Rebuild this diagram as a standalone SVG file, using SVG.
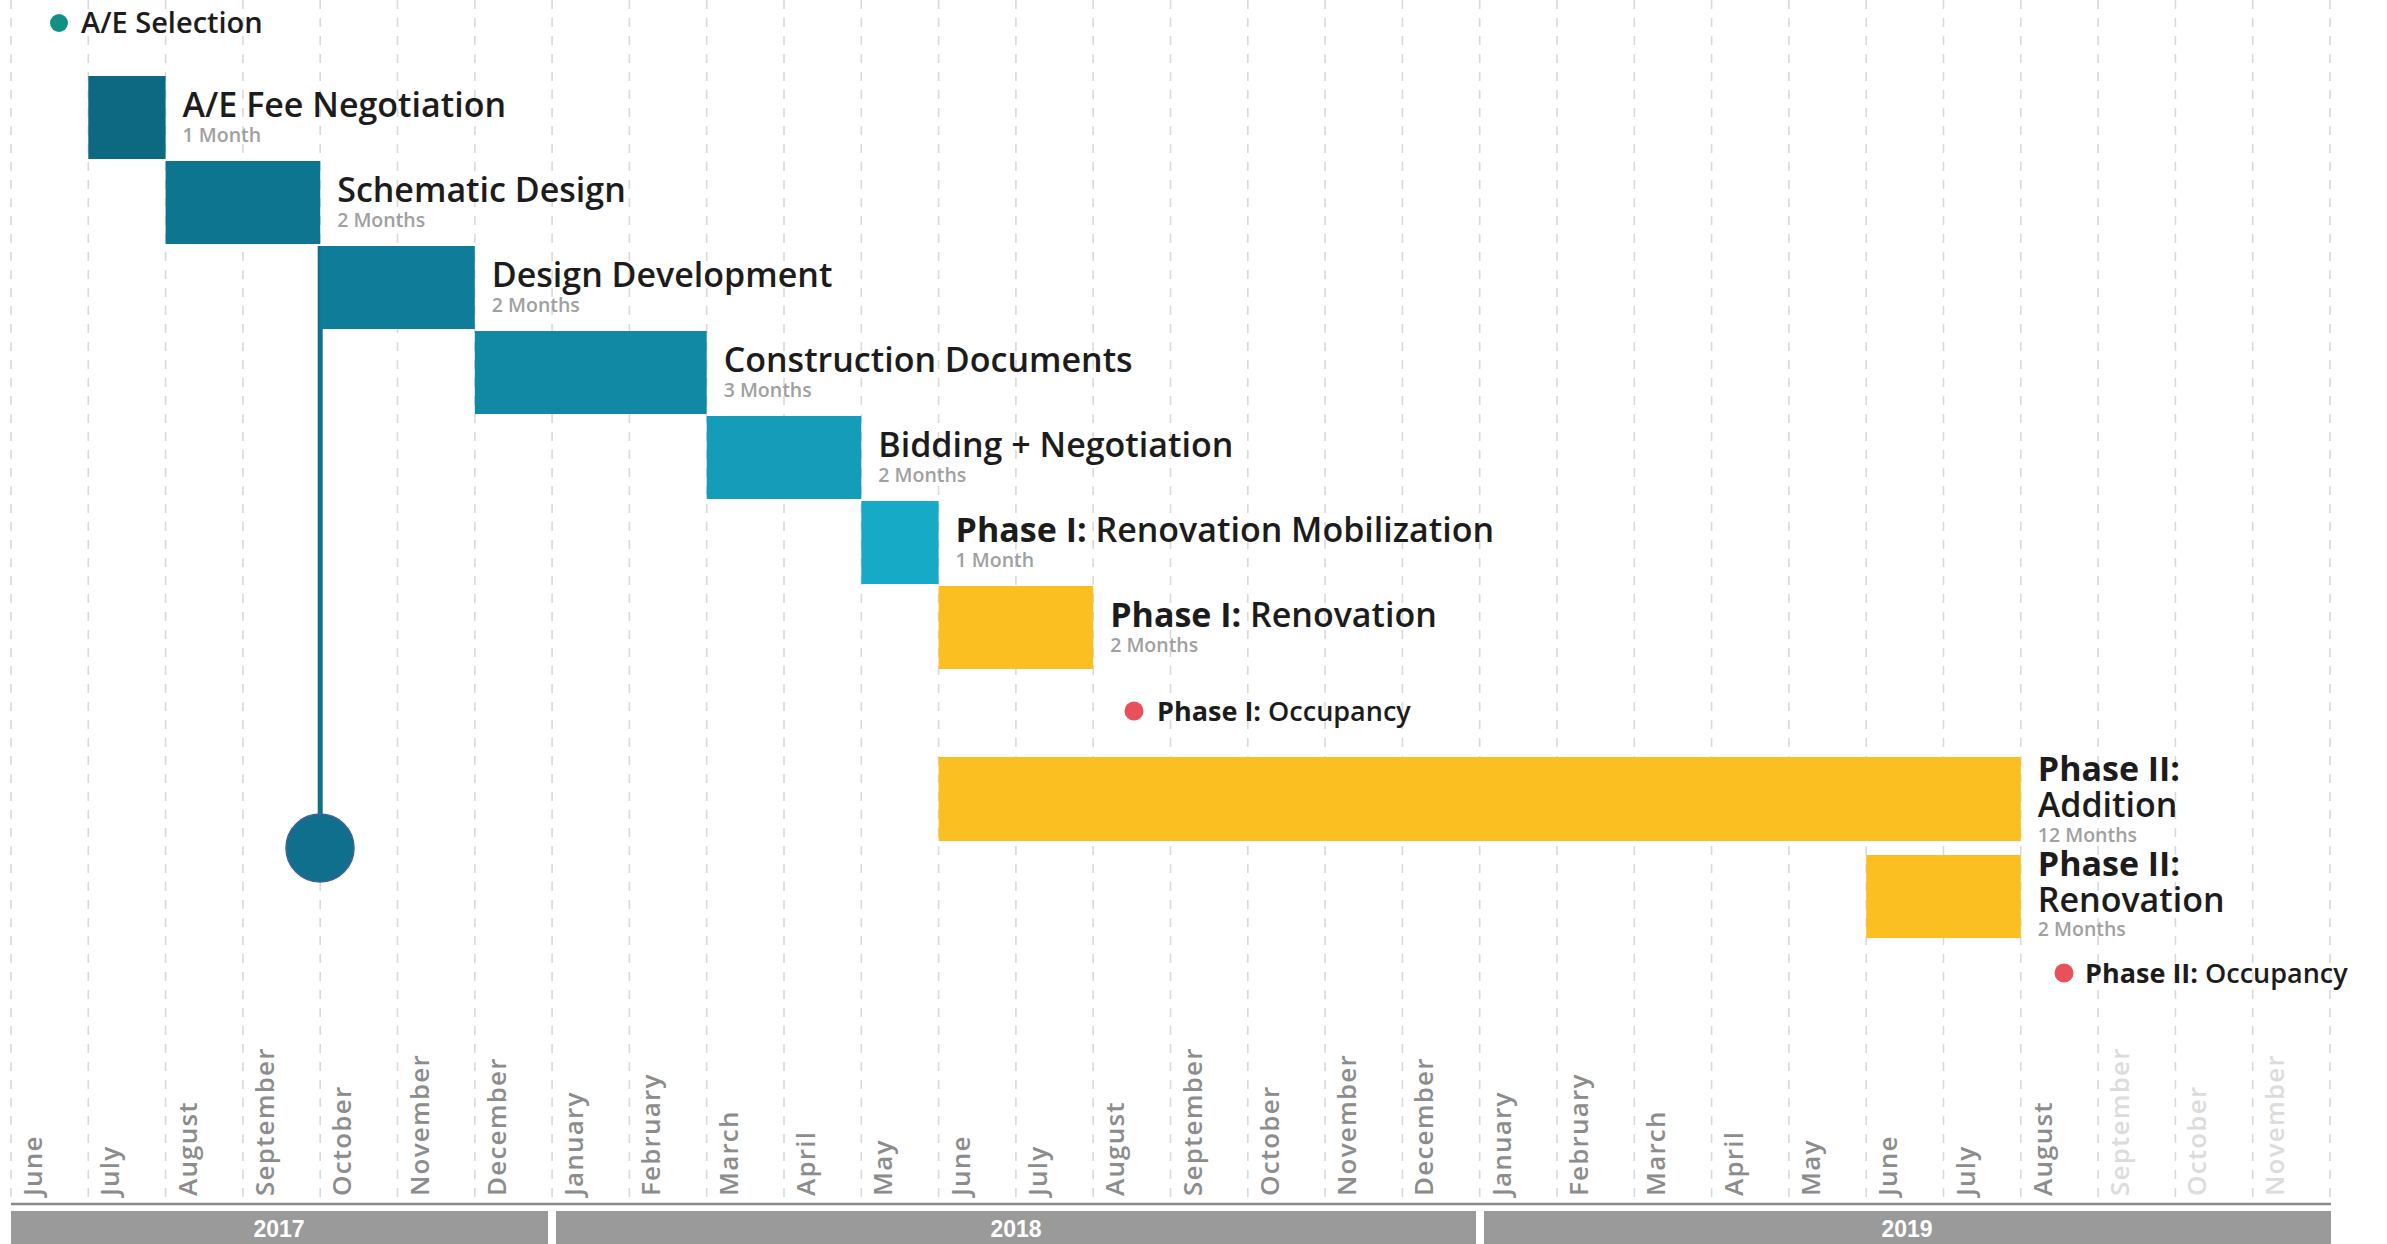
<svg xmlns="http://www.w3.org/2000/svg" width="2387" height="1244" viewBox="0 0 2387 1244">
<style>
.grid{stroke:#d9d9d9;stroke-width:1.6;stroke-dasharray:9 9}
.ttl{font-family:"Open Sans","Noto Sans",sans-serif;font-weight:600;font-size:34px;fill:#1c1c1c}
.hv{font-weight:700}
.sub{font-family:"Open Sans","Noto Sans",sans-serif;font-weight:600;font-size:19.5px;fill:#a0a0a0}
.occ{font-family:"Open Sans","Noto Sans",sans-serif;font-weight:600;font-size:27px;fill:#1c1c1c}
.mon{font-family:"Open Sans","Noto Sans",sans-serif;font-weight:600;font-size:26px;letter-spacing:1.2px;fill:#8c8c8c}
.mon.lt{fill:#dcdcdc}
.yr{font-family:"Liberation Sans",Arial,sans-serif;font-weight:700;font-size:23px;fill:#ffffff;text-anchor:middle}
.ybar{fill:#9a9a9a}
.yel{fill:#fcbf22}
</style>
<rect width="2387" height="1244" fill="#ffffff"/>
<g id="grid">
<line class="grid" x1="11" y1="0" x2="11" y2="1203"/>
<line class="grid" x1="88.3" y1="0" x2="88.3" y2="1203"/>
<line class="grid" x1="165.6" y1="0" x2="165.6" y2="1203"/>
<line class="grid" x1="242.9" y1="0" x2="242.9" y2="1203"/>
<line class="grid" x1="320.2" y1="0" x2="320.2" y2="1203"/>
<line class="grid" x1="397.5" y1="0" x2="397.5" y2="1203"/>
<line class="grid" x1="474.8" y1="0" x2="474.8" y2="1203"/>
<line class="grid" x1="552.1" y1="0" x2="552.1" y2="1203"/>
<line class="grid" x1="629.4" y1="0" x2="629.4" y2="1203"/>
<line class="grid" x1="706.7" y1="0" x2="706.7" y2="1203"/>
<line class="grid" x1="784" y1="0" x2="784" y2="1203"/>
<line class="grid" x1="861.3" y1="0" x2="861.3" y2="1203"/>
<line class="grid" x1="938.6" y1="0" x2="938.6" y2="1203"/>
<line class="grid" x1="1015.9" y1="0" x2="1015.9" y2="1203"/>
<line class="grid" x1="1093.2" y1="0" x2="1093.2" y2="1203"/>
<line class="grid" x1="1170.5" y1="0" x2="1170.5" y2="1203"/>
<line class="grid" x1="1247.8" y1="0" x2="1247.8" y2="1203"/>
<line class="grid" x1="1325.1" y1="0" x2="1325.1" y2="1203"/>
<line class="grid" x1="1402.4" y1="0" x2="1402.4" y2="1203"/>
<line class="grid" x1="1479.7" y1="0" x2="1479.7" y2="1203"/>
<line class="grid" x1="1557" y1="0" x2="1557" y2="1203"/>
<line class="grid" x1="1634.3" y1="0" x2="1634.3" y2="1203"/>
<line class="grid" x1="1711.6" y1="0" x2="1711.6" y2="1203"/>
<line class="grid" x1="1788.9" y1="0" x2="1788.9" y2="1203"/>
<line class="grid" x1="1866.2" y1="0" x2="1866.2" y2="1203"/>
<line class="grid" x1="1943.5" y1="0" x2="1943.5" y2="1203"/>
<line class="grid" x1="2020.8" y1="0" x2="2020.8" y2="1203"/>
<line class="grid" x1="2098.1" y1="0" x2="2098.1" y2="1203"/>
<line class="grid" x1="2175.4" y1="0" x2="2175.4" y2="1203"/>
<line class="grid" x1="2252.7" y1="0" x2="2252.7" y2="1203"/>
<line class="grid" x1="2330" y1="0" x2="2330" y2="1203"/>
</g>
<g id="months">
<text class="mon" transform="translate(42,1196) rotate(-90)">June</text>
<text class="mon" transform="translate(119.3,1196) rotate(-90)">July</text>
<text class="mon" transform="translate(196.6,1196) rotate(-90)">August</text>
<text class="mon" transform="translate(273.9,1196) rotate(-90)">September</text>
<text class="mon" transform="translate(351.2,1196) rotate(-90)">October</text>
<text class="mon" transform="translate(428.5,1196) rotate(-90)">November</text>
<text class="mon" transform="translate(505.8,1196) rotate(-90)">December</text>
<text class="mon" transform="translate(583.1,1196) rotate(-90)">January</text>
<text class="mon" transform="translate(660.4,1196) rotate(-90)">February</text>
<text class="mon" transform="translate(737.7,1196) rotate(-90)">March</text>
<text class="mon" transform="translate(815,1196) rotate(-90)">April</text>
<text class="mon" transform="translate(892.3,1196) rotate(-90)">May</text>
<text class="mon" transform="translate(969.6,1196) rotate(-90)">June</text>
<text class="mon" transform="translate(1046.9,1196) rotate(-90)">July</text>
<text class="mon" transform="translate(1124.2,1196) rotate(-90)">August</text>
<text class="mon" transform="translate(1201.5,1196) rotate(-90)">September</text>
<text class="mon" transform="translate(1278.8,1196) rotate(-90)">October</text>
<text class="mon" transform="translate(1356.1,1196) rotate(-90)">November</text>
<text class="mon" transform="translate(1433.4,1196) rotate(-90)">December</text>
<text class="mon" transform="translate(1510.7,1196) rotate(-90)">January</text>
<text class="mon" transform="translate(1588,1196) rotate(-90)">February</text>
<text class="mon" transform="translate(1665.3,1196) rotate(-90)">March</text>
<text class="mon" transform="translate(1742.6,1196) rotate(-90)">April</text>
<text class="mon" transform="translate(1819.9,1196) rotate(-90)">May</text>
<text class="mon" transform="translate(1897.2,1196) rotate(-90)">June</text>
<text class="mon" transform="translate(1974.5,1196) rotate(-90)">July</text>
<text class="mon" transform="translate(2051.8,1196) rotate(-90)">August</text>
<text class="mon lt" transform="translate(2129.1,1196) rotate(-90)">September</text>
<text class="mon lt" transform="translate(2206.4,1196) rotate(-90)">October</text>
<text class="mon lt" transform="translate(2283.7,1196) rotate(-90)">November</text>
</g>
<g id="years">
<line x1="11" y1="1204" x2="2331" y2="1204" stroke="#8a8a8a" stroke-width="2.5"/>
<rect class="ybar" x="11" y="1211" width="537" height="33"/>
<rect class="ybar" x="556" y="1211" width="920" height="33"/>
<rect class="ybar" x="1484" y="1211" width="847" height="33"/>
<text class="yr" x="279" y="1237">2017</text>
<text class="yr" x="1016" y="1237">2018</text>
<text class="yr" x="1907" y="1237">2019</text>
</g>
<g id="connectors">
<line x1="320.2" y1="246" x2="320.2" y2="815" stroke="#0f6f8c" stroke-width="5"/>
</g>
<g id="ae-selection">
<circle cx="59" cy="23" r="9" fill="#139085"/>
<text class="occ" x="81" y="33" style="font-size:29px">A/E Selection</text>
</g>
<g id="ae-fee">
<rect x="88.3" y="76" width="77.3" height="83" fill="#0d6882"/>
<text class="ttl" x="182.6" y="117">A/E Fee Negotiation</text>
<text class="sub" x="182.6" y="142">1 Month</text>
</g>
<g id="schematic">
<rect x="165.6" y="161" width="154.6" height="83" fill="#0e7590"/>
<text class="ttl" x="337.2" y="202">Schematic Design</text>
<text class="sub" x="337.2" y="227">2 Months</text>
</g>
<g id="design-dev">
<rect x="320.2" y="246" width="154.6" height="83" fill="#0f7d99"/>
<text class="ttl" x="491.8" y="287">Design Development</text>
<text class="sub" x="491.8" y="312">2 Months</text>
</g>
<g id="construction-docs">
<rect x="474.8" y="331" width="231.9" height="83" fill="#1189a5"/>
<text class="ttl" x="723.7" y="372">Construction Documents</text>
<text class="sub" x="723.7" y="397">3 Months</text>
</g>
<g id="bidding">
<rect x="706.7" y="416" width="154.6" height="83" fill="#149cb8"/>
<text class="ttl" x="878.3" y="457">Bidding + Negotiation</text>
<text class="sub" x="878.3" y="482">2 Months</text>
</g>
<g id="mobilization">
<rect x="861.3" y="501" width="77.3" height="83" fill="#17aac6"/>
<text class="ttl" x="955.6" y="542"><tspan class="hv">Phase I:</tspan> Renovation Mobilization</text>
<text class="sub" x="955.6" y="567">1 Month</text>
</g>
<g id="phase1-renovation">
<rect class="yel" x="938.6" y="586" width="154.6" height="83"/>
<text class="ttl" x="1110.2" y="627"><tspan class="hv">Phase I:</tspan> Renovation</text>
<text class="sub" x="1110.2" y="652">2 Months</text>
</g>
<g id="phase1-occupancy">
<circle cx="1134" cy="711" r="9.5" fill="#e8505a"/>
<text class="occ" x="1157" y="721"><tspan class="hv">Phase I:</tspan> Occupancy</text>
</g>
<g id="phase2-addition">
<rect class="yel" x="938.6" y="757" width="1082.2" height="84"/>
<text class="ttl" x="2037.8" y="781"><tspan class="hv">Phase II:</tspan></text>
<text class="ttl" x="2037.8" y="817">Addition</text>
<text class="sub" x="2037.8" y="842">12 Months</text>
</g>
<g id="phase2-renovation">
<rect class="yel" x="1866.2" y="855" width="154.6" height="83"/>
<text class="ttl" x="2037.8" y="876"><tspan class="hv">Phase II:</tspan></text>
<text class="ttl" x="2037.8" y="912">Renovation</text>
<text class="sub" x="2037.8" y="936">2 Months</text>
</g>
<g id="phase2-occupancy">
<circle cx="2064" cy="973" r="9.5" fill="#e8505a"/>
<text class="occ" x="2085" y="983"><tspan class="hv">Phase II:</tspan> Occupancy</text>
</g>
<g id="milestone">
<circle cx="320" cy="848" r="34" fill="#0f6f8c" stroke="#45609a" stroke-width="1.5"/>
</g>
</svg>
